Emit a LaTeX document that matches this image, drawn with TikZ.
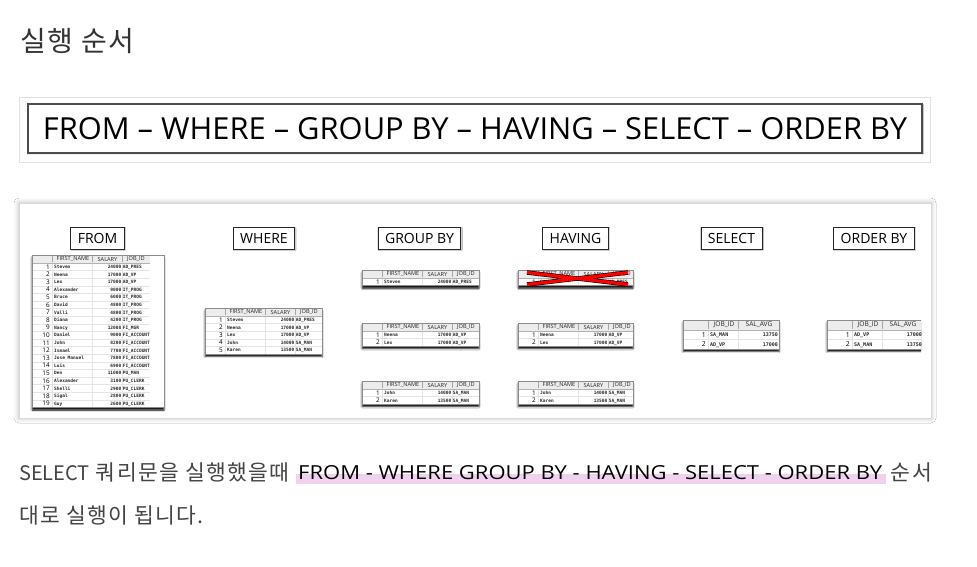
\documentclass[tikz,border=0pt]{standalone}
\usepackage{fontspec}
\usepackage{graphicx}
\setmainfont{Open Sans}
\newfontfamily\krfont[LetterSpace=6]{Noto Sans CJK KR}
\newfontfamily\krlatin{Noto Sans CJK KR}
\newfontfamily\cellfont{DejaVu Sans Mono}
\usetikzlibrary{shadows.blur}
\definecolor{hlpink}{HTML}{F0D2EE}
\definecolor{txtgray}{HTML}{444444}
\definecolor{gridgray}{HTML}{E4E4E4}
\definecolor{headgray}{HTML}{ECECEC}

\tikzset{
  stagebox/.style={draw=black!85, line width=0.8pt, fill=white, inner xsep=7pt, minimum height=22pt,
    font=\fontsize{14}{14}\selectfont,
    blur shadow={shadow xshift=0.6pt, shadow yshift=-0.8pt, shadow blur radius=0.8pt, shadow opacity=30}},
  tabshadow/.style={blur shadow={shadow xshift=0pt, shadow yshift=-2.6pt, shadow blur radius=1.2pt, shadow opacity=90}},
  hdtext/.style={font=\fontsize{5.6}{5.6}\selectfont, text=black!85, inner sep=0pt},
  celltext/.style={font=\cellfont\bfseries\fontsize{4.5}{4.5}\selectfont, text=black!85, inner sep=0pt},
  numtext/.style={font=\fontsize{6.4}{6.4}\selectfont, inner sep=0pt, anchor=base east},
  krtext/.style={font=\krfont\fontsize{21.5}{21.5}\selectfont, text=txtgray, inner sep=0pt},
}

% FIRST_NAME / SALARY / JOB_ID 표: #1 x, #2 y, #3 폭, #4 행 수, #5 행
\newcommand{\empTable}[5]{%
  \begin{scope}[shift={(#1,#2)}]
    \pgfmathsetmacro\hw{min(#3,118)}
    \pgfmathsetmacro\th{8+7.6*#4}
    \fill[white, tabshadow] (0,0) rectangle (#3,\th);
    \fill[headgray] (0,0) rectangle (\hw,8);
    \foreach \r in {1,...,#4}
      \draw[gridgray, line width=0.3pt] (0,{8+7.6*\r}) -- (\hw,{8+7.6*\r});
    \foreach \c in {20,60,90}
      \draw[gridgray, line width=0.3pt] (\c,8) -- (\c,\th);
    \foreach \c in {20,60,90}
      \draw[black!35, line width=0.3pt] (\c,1) -- (\c,7);
    \draw[black!30, line width=0.3pt] (0,8) -- (\hw,8);
    \node[hdtext] at (41,4) {FIRST\_NAME};
    \node[hdtext] at (75.5,4) {SALARY};
    \node[hdtext] at (104,4) {JOB\_ID};
    \foreach \n/\nm/\sal/\job [count=\i] in {#5} {
      \node[numtext] at (18,{8+7.6*\i-1.6}) {\n};
      \node[celltext, anchor=base west] at (22,{8+7.6*\i-2.2}) {\nm};
      \node[celltext, anchor=base east] at (89.5,{8+7.6*\i-2.2}) {\sal};
      \node[celltext, anchor=base west] at (90.6,{8+7.6*\i-2.2}) {\job};
    }
    \draw[black!45, line width=0.4pt] (0,0) rectangle (#3,\th);
  \end{scope}}

% JOB_ID / SAL_AVG 표: #1 x, #2 y, #3 행
\newcommand{\jobTable}[3]{%
  \begin{scope}[shift={(#1,#2)}]
    \fill[white, tabshadow] (0,0) rectangle (96,29);
    \fill[headgray] (0,0) rectangle (96,10);
    \foreach \r in {1,2}
      \draw[gridgray, line width=0.3pt] (0,{10+9.5*\r}) -- (96,{10+9.5*\r});
    \foreach \c in {25,55}
      \draw[gridgray, line width=0.3pt] (\c,10) -- (\c,29);
    \foreach \c in {25,55}
      \draw[black!35, line width=0.3pt] (\c,1) -- (\c,9);
    \draw[black!30, line width=0.3pt] (0,10) -- (96,10);
    \node[hdtext, font=\fontsize{6.6}{6.6}\selectfont] at (41,5) {JOB\_ID};
    \node[hdtext, font=\fontsize{6.6}{6.6}\selectfont] at (76,5) {SAL\_AVG};
    \foreach \n/\job/\avg [count=\i] in {#3} {
      \node[numtext, font=\fontsize{6.8}{6.8}\selectfont] at (23,{10+9.5*\i-2.4}) {\n};
      \node[celltext, font=\cellfont\bfseries\fontsize{5}{5}\selectfont, anchor=base west] at (27,{10+9.5*\i-3}) {\job};
      \node[celltext, font=\cellfont\bfseries\fontsize{5}{5}\selectfont, anchor=base east] at (95,{10+9.5*\i-3}) {\avg};
    }
    \draw[black!45, line width=0.4pt] (0,0) rectangle (96,29);
  \end{scope}}

\begin{document}
\begin{tikzpicture}[x=1pt,y=-1pt]
  \useasboundingbox (0,0) rectangle (977,566);
  \fill[white] (0,0) rectangle (977,566);

  % 제목
  \node[krtext, font=\krfont\fontsize{28}{28}\selectfont, text=black!80, anchor=base west] (title) at (20,51) {실행 순서};

  % 실행 순서 상자
  \draw[black!12, line width=0.6pt] (19,97) rectangle (930,162);
  \node[draw=black!70, line width=1.2pt, fill=white, minimum width=894pt, minimum height=49pt, inner sep=0pt,
    blur shadow={shadow xshift=0.5pt, shadow yshift=-0.8pt, shadow blur radius=1pt, shadow opacity=35}]
    (order) at (475,128.5) {\resizebox{864pt}{22pt}{FROM – WHERE – GROUP BY – HAVING – SELECT – ORDER BY}};

  % 단계별 그림
  \fill[white, blur shadow={shadow xshift=0pt, shadow yshift=0pt, shadow blur radius=5pt, shadow opacity=30}]
    (19,203) rectangle (931,418);
  \draw[black!15, line width=0.5pt] (19,203) rectangle (931,418);

  \node[stagebox] (from) at (97.5,238) {FROM};
  \node[stagebox] (where) at (264,238) {WHERE};
  \node[stagebox] (groupby) at (419.5,238) {GROUP BY};
  \node[stagebox] (having) at (575.5,238) {HAVING};
  \node[stagebox] (select) at (731.5,238) {SELECT};
  \node[stagebox] (orderby) at (874,238) {ORDER BY};

  \empTable{32}{255}{132}{19}{1/Steven/24000/AD\_PRES, 2/Neena/17000/AD\_VP, 3/Lex/17000/AD\_VP,
    4/Alexander/9000/IT\_PROG, 5/Bruce/6000/IT\_PROG, 6/David/4800/IT\_PROG, 7/Valli/4800/IT\_PROG,
    8/Diana/4200/IT\_PROG, 9/Nancy/12008/FI\_MGR, 10/Daniel/9000/FI\_ACCOUNT, 11/John/8200/FI\_ACCOUNT,
    12/Ismael/7700/FI\_ACCOUNT, 13/Jose Manuel/7800/FI\_ACCOUNT, 14/Luis/6900/FI\_ACCOUNT,
    15/Den/11000/PU\_MAN, 16/Alexander/3100/PU\_CLERK, 17/Shelli/2900/PU\_CLERK,
    18/Sigal/2800/PU\_CLERK, 19/Guy/2600/PU\_CLERK}

  \empTable{205}{308}{117}{5}{1/Steven/24000/AD\_PRES, 2/Neena/17000/AD\_VP, 3/Lex/17000/AD\_VP,
    4/John/14000/SA\_MAN, 5/Karen/13500/SA\_MAN}

  \empTable{362}{270}{117}{1}{1/Steven/24000/AD\_PRES}
  \empTable{362}{323}{117}{2}{1/Neena/17000/AD\_VP, 2/Lex/17000/AD\_VP}
  \empTable{362}{381}{117}{2}{1/John/14000/SA\_MAN, 2/Karen/13500/SA\_MAN}

  \empTable{518}{270}{115}{1}{1/Steven/24000/AD\_PRES}
  \empTable{518}{323}{115}{2}{1/Neena/17000/AD\_VP, 2/Lex/17000/AD\_VP}
  \empTable{518}{381}{115}{2}{1/John/14000/SA\_MAN, 2/Karen/13500/SA\_MAN}
  % HAVING에서 걸러진 표
  \draw[black, line width=4.4pt] (527,272.5) -- (628,284.5) (527,284.5) -- (628,272.5);
  \draw[red, line width=3.2pt] (527,272.5) -- (628,284.5) (527,284.5) -- (628,272.5);

  \jobTable{683}{320}{1/SA\_MAN/13750, 2/AD\_VP/17000}
  \begin{scope}
    \clip (800,300) rectangle (921,370);
    \jobTable{827}{320}{1/AD\_VP/17000, 2/SA\_MAN/13750}
  \end{scope}

  % 설명 문장
  \fill[hlpink] (296,474) rectangle (886,484);
  \node[krtext, anchor=base west] (lead) at (19,480) {{\krlatin\fontsize{20}{20}\selectfont SELECT} 쿼리문을 실행했을때};
  \node[inner sep=0pt, anchor=west] (mark) at (298,472.5) {\resizebox{584pt}{14pt}{FROM - WHERE GROUP BY - HAVING - SELECT - ORDER BY}};
  \node[krtext, anchor=base east] (tail) at (932,480) {순서};
  \node[krtext, anchor=base west] (line2) at (19,523) {대로 실행이 됩니다.};
\end{tikzpicture}
\end{document}
